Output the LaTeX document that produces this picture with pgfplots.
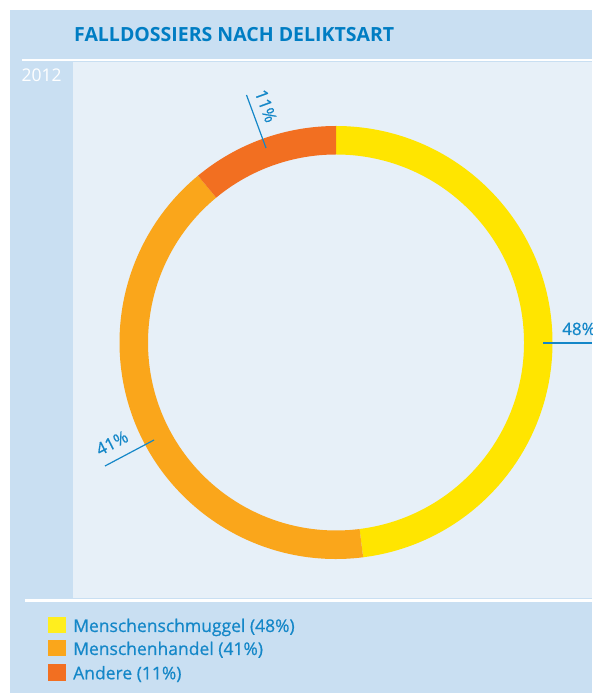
\documentclass[border=0pt]{standalone}
\usepackage{pgfplots}
\pgfplotsset{compat=1.18}
\usepackage{pgfplotstable}
\usepackage{fontspec}
\setmainfont{Open Sans}
\newfontfamily\medfont{Open Sans}[FakeBold=0.6]
\definecolor{outerbg}{RGB}{201,223,242}
\definecolor{innerbg}{RGB}{231,240,248}
\definecolor{titleblue}{RGB}{0,125,195}
\definecolor{labelblue}{RGB}{20,135,200}
\definecolor{cyellow}{RGB}{255,229,0}
\definecolor{corange}{RGB}{250,166,27}
\definecolor{cred}{RGB}{242,111,33}
\definecolor{lyellow}{RGB}{255,238,30}

\pgfplotstableread{
label value
Menschenschmuggel 48
Menschenhandel 41
Andere 11
}\datatable

\begin{document}
\begin{tikzpicture}
\pgfplotstablegetelem{0}{value}\of\datatable \let\va\pgfplotsretval
\pgfplotstablegetelem{1}{value}\of\datatable \let\vb\pgfplotsretval
\pgfplotstablegetelem{2}{value}\of\datatable \let\vc\pgfplotsretval
\pgfmathsetmacro{\aA}{90}
\pgfmathsetmacro{\aB}{90-3.6*\va}
\pgfmathsetmacro{\aC}{\aB-3.6*\vb}
\pgfmathsetmacro{\aD}{\aC-3.6*\vc}
\newcommand\seg[3]{\fill[#1] ([shift={(#2:216.5pt)}]axis cs:336,350.5) arc[start angle=#2,end angle=#3,radius=216.5pt] -- ([shift={(#3:188pt)}]axis cs:336,350.5) arc[start angle=#3,end angle=#2,radius=188pt] -- cycle;}
\begin{axis}[scale only axis, width=592pt, height=693pt,
  xmin=0, xmax=592, ymin=0, ymax=693, enlargelimits=false,
  hide axis, clip=false]
% backgrounds
\fill[outerbg] (axis cs:10,0) rectangle (axis cs:592,683);
\fill[innerbg] (axis cs:73,95) rectangle (axis cs:592,631);
\draw[white, line width=2.5pt] (axis cs:22,633) -- (axis cs:592,633);
\draw[white, line width=2.5pt] (axis cs:25,92.5) -- (axis cs:592,92.5);
% title and year
\node[titleblue, anchor=base west, inner sep=0, font=\bfseries\fontsize{19.5}{23}\selectfont] at (axis cs:74,651) {FALLDOSSIERS NACH DELIKTSART};
\node[white, anchor=base west, inner sep=0, font=\fontsize{17.5}{20}\selectfont] at (axis cs:21.5,611) {2012};
% donut
\seg{cyellow}{\aA}{\aB}
\seg{corange}{\aB}{\aC}
\seg{cred}{\aC}{\aD}
% value labels
\draw[labelblue, line width=1.2pt] (axis cs:543,350) -- (axis cs:592,350);
\node[labelblue, anchor=base west, inner sep=0, font=\medfont\fontsize{17}{20}\selectfont] at (axis cs:562,358) {\va\%};
\draw[labelblue, line width=1.2pt] (axis cs:246.5,598) -- (axis cs:266,545);
\node[labelblue, rotate=-70, inner sep=0, font=\medfont\fontsize{17}{20}\selectfont] at (axis cs:266,587) {\vc\%};
\draw[labelblue, line width=1.2pt] (axis cs:105,227) -- (axis cs:154,253);
\node[labelblue, rotate=27, inner sep=0, font=\medfont\fontsize{17}{20}\selectfont] at (axis cs:112,250) {\vb\%};
% legend
\fill[lyellow] (axis cs:48,76) rectangle (axis cs:66,60);
\node[labelblue, anchor=base west, inner sep=0, font=\medfont\fontsize{17.5}{21}\selectfont] at (axis cs:73,61) {Menschenschmuggel (\va\%)};
\fill[corange] (axis cs:48,53) rectangle (axis cs:66,37);
\node[labelblue, anchor=base west, inner sep=0, font=\medfont\fontsize{17.5}{21}\selectfont] at (axis cs:73,38) {Menschenhandel (\vb\%)};
\fill[cred] (axis cs:48,29) rectangle (axis cs:66,12);
\node[labelblue, anchor=base west, inner sep=0, font=\medfont\fontsize{17.5}{21}\selectfont] at (axis cs:73,13.7) {Andere (\vc\%)};
\end{axis}
\pgfresetboundingbox
\path (current axis.south west) rectangle (current axis.north east);
\end{tikzpicture}
\end{document}
